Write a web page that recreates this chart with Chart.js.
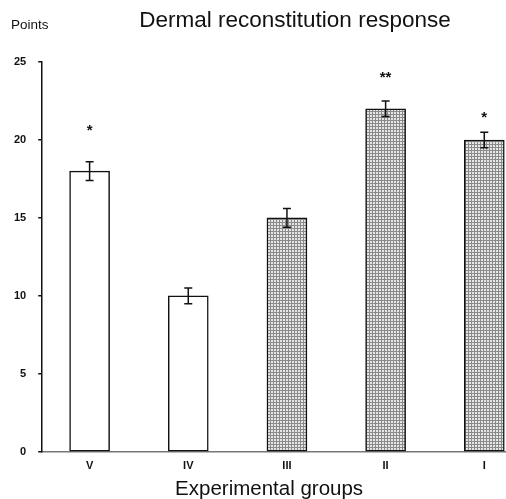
<!DOCTYPE html>
<html>
<head>
<meta charset="utf-8">
<script src="https://cdn.jsdelivr.net/npm/chart.js@4"></script>
<style>
  html, body { margin: 0; padding: 0; background: #fff; }
  #wrap { width: 506px; height: 499px; position: relative; }
</style>
</head>
<body>
<div id="wrap"><canvas id="c"></canvas></div>
<script>
const groups = ['V', 'IV', 'III', 'II', 'I'];
const points = [18, 10, 15, 22, 20];
const errors = [0.6, 0.5, 0.6, 0.5, 0.5];
const stars = ['*', '', '', '**', '*'];
const starAt = [20.8, 0, 0, 24.2, 21.6];
const treated = [false, false, true, true, true];
const yTicks = [0, 5, 10, 15, 20, 25];

// dotted grey fill like the printed figure
function dotPattern() {
  const t = document.createElement('canvas');
  t.width = 3; t.height = 3;
  const g = t.getContext('2d');
  g.fillStyle = '#e6e6e6';
  g.fillRect(0, 0, 3, 3);
  g.fillStyle = '#8a8a8a';
  g.fillRect(0, 0, 3, 1);
  g.fillRect(0, 0, 1, 3);
  return g.createPattern(t, 'repeat');
}
const dots = dotPattern();

const extras = {
  id: 'extras',
  afterDatasetsDraw(chart) {
    const ctx = chart.ctx;
    const y = chart.scales.y;
    const bars = chart.getDatasetMeta(0).data;
    ctx.save();
    ctx.strokeStyle = '#111';
    ctx.lineWidth = 1.5;
    bars.forEach((b, i) => {
      const top = y.getPixelForValue(points[i] + errors[i]);
      const bot = y.getPixelForValue(points[i] - errors[i]);
      ctx.beginPath();
      ctx.moveTo(b.x, top); ctx.lineTo(b.x, bot);
      ctx.moveTo(b.x - 4, top); ctx.lineTo(b.x + 4, top);
      ctx.moveTo(b.x - 4, bot); ctx.lineTo(b.x + 4, bot);
      ctx.stroke();
      if (stars[i]) {
        ctx.fillStyle = '#111';
        ctx.font = 'bold 15px "Liberation Sans", Arial';
        ctx.textAlign = 'center';
        ctx.textBaseline = 'middle';
        ctx.fillText(stars[i], b.x, y.getPixelForValue(starAt[i]) + 3);
      }
    });
    ctx.restore();
  },
  afterDraw(chart) {
    const ctx = chart.ctx;
    const a = chart.chartArea;
    ctx.save();
    ctx.fillStyle = '#111';
    ctx.textBaseline = 'middle';
    ctx.textAlign = 'left';
    ctx.font = '13.5px "Liberation Sans", Arial';
    ctx.fillText('Points', 11, 25);
    ctx.textAlign = 'center';
    ctx.font = '22.5px "Liberation Sans", Arial';
    ctx.fillText('Dermal reconstitution response', 295, 21);
    ctx.font = '20.5px "Liberation Sans", Arial';
    ctx.fillText('Experimental groups', (a.left + a.right) / 2 - 5, 489);
    ctx.restore();
  }
};

new Chart(document.getElementById('c'), {
  type: 'bar',
  data: {
    datasets: [{
      data: points.map((v, i) => ({ x: i + 1, y: v })),
      backgroundColor: treated.map((t) => (t ? dots : '#fff')),
      borderColor: '#111',
      borderWidth: 1.5,
      borderSkipped: false,
      barThickness: 40
    }]
  },
  options: {
    responsive: true,
    maintainAspectRatio: false,
    animation: false,
    layout: { padding: { top: 62, right: 0, left: 2, bottom: 18 } },
    plugins: { legend: { display: false }, tooltip: { enabled: false } },
    scales: {
      x: {
        type: 'linear',
        offset: false,
        min: 0.52,
        max: 5.22,
        afterBuildTicks: (s) => { s.ticks = groups.map((g, i) => ({ value: i + 1 })); },
        grid: { display: false, drawTicks: false, tickLength: 0 },
        border: { color: '#777', width: 1.5 },
        ticks: {
          color: '#111',
          padding: 8,
          maxRotation: 0,
          font: { family: '"Liberation Sans", Arial', size: 11, weight: 'bold' },
          callback: (v) => groups[v - 1]
        }
      },
      y: {
        min: 0,
        max: 25,
        afterBuildTicks: (s) => { s.ticks = yTicks.map((v) => ({ value: v })); },
        grid: { drawOnChartArea: false, color: '#111', tickLength: 4, lineWidth: 1.5 },
        border: { color: '#111', width: 1.5 },
        ticks: {
          color: '#111',
          padding: 12,
          font: { family: '"Liberation Sans", Arial', size: 11, weight: 'bold' }
        }
      }
    }
  },
  plugins: [extras]
});
</script>
</body>
</html>
